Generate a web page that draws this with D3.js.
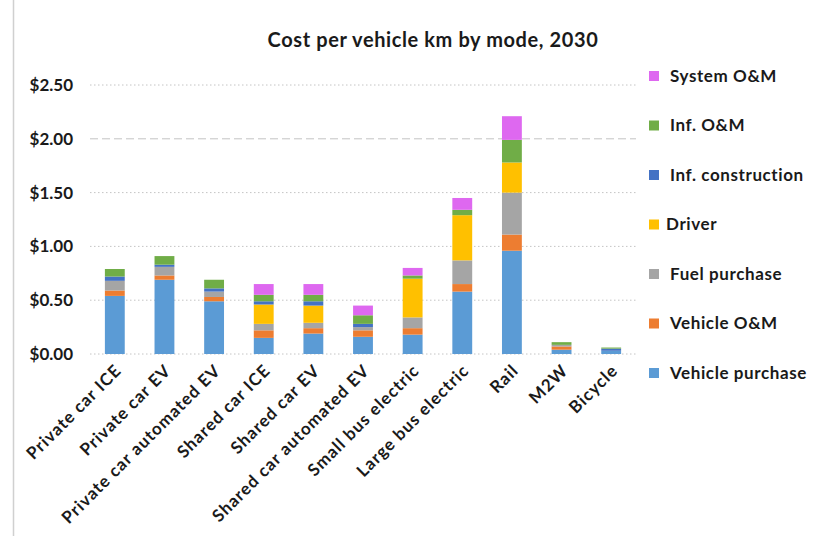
<!DOCTYPE html>
<html>
<head>
<meta charset="utf-8">
<script src="https://cdn.jsdelivr.net/npm/d3@7/dist/d3.min.js"></script>
<style>
  html, body { margin: 0; padding: 0; background: #fff; }
  svg { display: block; }
</style>
</head>
<body>
<svg id="chart" width="840" height="536"></svg>
<script>
const modes = ["Private car ICE","Private car EV","Private car automated EV","Shared car ICE","Shared car EV","Shared car automated EV","Small bus electric","Large bus electric","Rail","M2W","Bicycle"];
const seriesNames = ["Vehicle purchase","Vehicle O&M","Fuel purchase","Driver","Inf. construction","Inf. O&M","System O&M"];
const vehiclePurchase = [0.54,0.69,0.49,0.15,0.19,0.16,0.18,0.58,0.96,0.04,0.03];
const vehicleOM       = [0.05,0.04,0.04,0.07,0.05,0.06,0.06,0.07,0.15,0.03,0.00];
const fuelPurchase    = [0.09,0.08,0.05,0.06,0.05,0.03,0.10,0.22,0.39,0.015,0.00];
const driver          = [0.00,0.00,0.00,0.18,0.16,0.00,0.36,0.42,0.28,0.00,0.00];
const infConstruction = [0.04,0.02,0.03,0.03,0.04,0.03,0.00,0.00,0.00,0.00,0.02];
const infOM           = [0.07,0.08,0.08,0.06,0.06,0.08,0.03,0.05,0.21,0.025,0.01];
const systemOM        = [0.00,0.00,0.00,0.10,0.10,0.09,0.07,0.11,0.22,0.00,0.00];
const yTicks = [0,0.5,1.0,1.5,2.0,2.5];
const colors = ["#5B9BD5","#ED7D31","#A5A5A5","#FFC000","#4472C4","#70AD47","#DE68F0"];

const seriesValues = [vehiclePurchase, vehicleOM, fuelPurchase, driver, infConstruction, infOM, systemOM];
const table = modes.map((m, i) => {
  const row = { mode: m };
  seriesNames.forEach((s, j) => row[s] = seriesValues[j][i]);
  return row;
});

const svg = d3.select("#chart");
const font = "Lato, 'Open Sans', sans-serif";

// frame line on the left
svg.append("line").attr("x1", 13.5).attr("x2", 13.5).attr("y1", 0).attr("y2", 536)
  .attr("stroke", "#d0d0d0").attr("stroke-width", 1.5);

const y = d3.scaleLinear().domain([0, 2.5]).range([354, 85]);
const x = d3.scaleBand().domain(modes).range([90, 636]).paddingInner(0.6).paddingOuter(0.3);

// gridlines
svg.append("g").selectAll("line").data(yTicks).join("line")
  .attr("x1", 90).attr("x2", 636)
  .attr("y1", d => y(d)).attr("y2", d => y(d))
  .attr("stroke", "#c4c4c4").attr("stroke-width", 1)
  .attr("stroke-dasharray", d => d === 2.0 ? "8,4" : "1.5,2.5");

// y axis labels
const yAxis = d3.axisLeft(y).tickValues(yTicks).tickSize(0).tickPadding(0)
  .tickFormat(d => "$" + d3.format(".2f")(d));
const gy = svg.append("g").attr("transform", "translate(73,0)").call(yAxis);
gy.select(".domain").remove();
gy.selectAll("text").attr("font-family", font).attr("font-weight", "bold")
  .attr("font-size", 17).attr("fill", "#1a1a1a");

// stacked bars
const stack = d3.stack().keys(seriesNames);
const stacked = stack(table);
svg.append("g").selectAll("g").data(stacked).join("g")
  .attr("fill", (d, i) => colors[i])
  .selectAll("rect").data(d => d).join("rect")
  .attr("x", d => x(d.data.mode))
  .attr("width", x.bandwidth())
  .attr("y", d => y(d[1]))
  .attr("height", d => Math.max(0, y(d[0]) - y(d[1])));

// x labels
const gx = svg.append("g").attr("transform", "translate(0,354)")
  .call(d3.axisBottom(x).tickSize(0).tickPadding(0));
gx.select(".domain").remove();
gx.selectAll("text")
  .attr("font-family", font).attr("font-weight", "bold").attr("font-size", 17)
  .attr("letter-spacing", "1px")
  .attr("fill", "#1a1a1a")
  .attr("text-anchor", "end")
  .attr("dy", "0.72em")
  .attr("transform", "translate(-1,9) rotate(-45)");

// title
svg.append("text").attr("x", 433).attr("y", 47).attr("text-anchor", "middle")
  .attr("font-family", font).attr("font-weight", "bold").attr("font-size", 20)
  .attr("letter-spacing", "0.6px")
  .attr("fill", "#1a1a1a")
  .text("Cost per vehicle km by mode, 2030");

// legend (top to bottom: reversed series order)
const legendItems = seriesNames.map((s, i) => ({ name: s, color: colors[i] })).reverse();
const leg = svg.append("g").selectAll("g").data(legendItems).join("g")
  .attr("transform", (d, i) => `translate(649,${76 + i * 49.5})`);
leg.append("rect").attr("x", 0).attr("y", -5).attr("width", 10).attr("height", 10)
  .attr("fill", d => d.color);
leg.append("text").attr("x", d => d.name === "Driver" ? 17 : 21).attr("y", 0).attr("dy", "0.35em")
  .attr("font-family", font).attr("font-weight", "bold").attr("font-size", 17)
  .attr("letter-spacing", "0.6px")
  .attr("fill", "#1a1a1a")
  .text(d => d.name);
</script>
</body>
</html>
